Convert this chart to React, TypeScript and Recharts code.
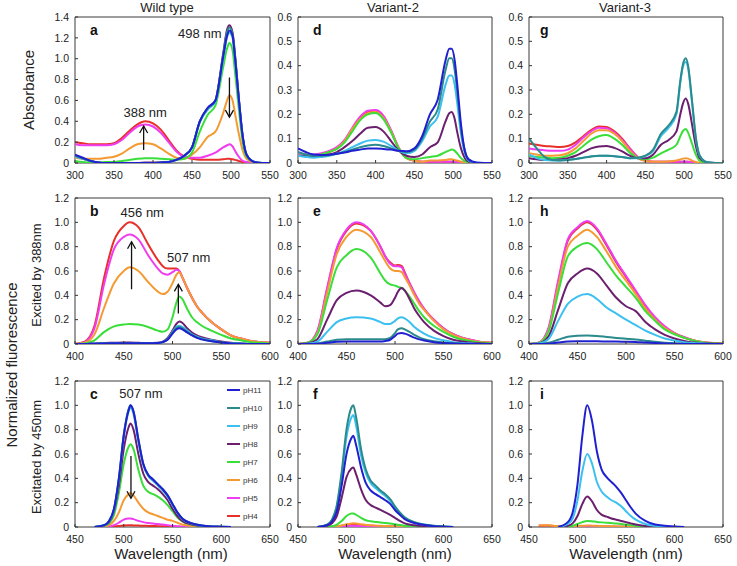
import React from 'react';
import { LineChart, Line, XAxis, YAxis, ReferenceArea, ReferenceLine, ReferenceDot } from 'recharts';

const FONT = '"Liberation Sans", Arial, Helvetica, sans-serif';

const SERIES_KEYS = ['pH11', 'pH10', 'pH9', 'pH8', 'pH7', 'pH6', 'pH5', 'pH4'];
const SERIES_COLORS = ['#2020d0', '#2b8a8c', '#3cc0f0', '#6b1f6e', '#3ade3a', '#f59a32', '#f03cf0', '#e8302a'];

const COLUMN_TITLES = ['Wild type', 'Variant-2', 'Variant-3'];
const PANEL_LETTERS = ['a', 'b', 'c', 'd', 'e', 'f', 'g', 'h', 'i'];

// ---------- Absorbance wavelengths (a, d, g) ----------
const absX = [300, 310, 320, 330, 340, 350, 360, 370, 380, 390, 400, 410, 420, 430, 440, 450, 460, 470, 480, 490, 495, 498, 502, 505, 510, 515, 520, 530, 540, 550];
const absTicksX = [300, 350, 400, 450, 500, 550];
const absTicksYwt = [0, 0.2, 0.4, 0.6, 0.8, 1.0, 1.2, 1.4];
const absTicksYv = [0, 0.1, 0.2, 0.3, 0.4, 0.5, 0.6];

// Panel a
const a_pH11 = [0.08, 0.05, 0.02, 0.005, 0, 0, 0, 0, 0, 0, 0, 0.005, 0.01, 0.03, 0.07, 0.15, 0.40, 0.53, 0.60, 1.02, 1.22, 1.27, 1.22, 1.02, 0.62, 0.26, 0.08, 0.01, 0, 0];
const a_pH10 = [0.07, 0.045, 0.02, 0.005, 0, 0, 0, 0, 0, 0, 0, 0.005, 0.01, 0.03, 0.07, 0.15, 0.40, 0.52, 0.60, 1.04, 1.26, 1.30, 1.24, 1.04, 0.62, 0.25, 0.08, 0.01, 0, 0];
const a_pH9 = [0.06, 0.04, 0.02, 0.005, 0, 0, 0, 0, 0, 0, 0, 0.005, 0.01, 0.03, 0.07, 0.15, 0.39, 0.51, 0.59, 1.00, 1.21, 1.25, 1.20, 1.00, 0.60, 0.25, 0.08, 0.01, 0, 0];
const a_pH8 = [0.07, 0.04, 0.02, 0.005, 0, 0, 0, 0, 0, 0.005, 0.005, 0.005, 0.01, 0.03, 0.07, 0.15, 0.40, 0.52, 0.60, 1.05, 1.28, 1.32, 1.25, 1.05, 0.62, 0.25, 0.08, 0.01, 0, 0];
const a_pH7 = [0.02, 0.01, 0.005, 0.005, 0.01, 0.01, 0.02, 0.03, 0.04, 0.045, 0.045, 0.04, 0.035, 0.03, 0.04, 0.10, 0.30, 0.46, 0.55, 0.92, 1.10, 1.15, 1.08, 0.88, 0.52, 0.20, 0.06, 0.01, 0, 0];
const a_pH6 = [0.05, 0.04, 0.04, 0.04, 0.05, 0.06, 0.09, 0.14, 0.18, 0.19, 0.18, 0.14, 0.09, 0.05, 0.04, 0.08, 0.15, 0.25, 0.30, 0.48, 0.60, 0.65, 0.60, 0.48, 0.28, 0.12, 0.04, 0.005, 0, 0];
const a_pH5 = [0.18, 0.17, 0.17, 0.17, 0.17, 0.18, 0.22, 0.29, 0.35, 0.37, 0.35, 0.29, 0.20, 0.11, 0.06, 0.05, 0.05, 0.07, 0.10, 0.15, 0.17, 0.18, 0.16, 0.12, 0.06, 0.02, 0.01, 0, 0, 0];
const a_pH4 = [0.20, 0.19, 0.18, 0.18, 0.18, 0.19, 0.24, 0.31, 0.37, 0.40, 0.38, 0.32, 0.22, 0.12, 0.06, 0.04, 0.03, 0.03, 0.03, 0.035, 0.04, 0.04, 0.035, 0.03, 0.02, 0.01, 0.005, 0, 0, 0];

// Panel d
const d_pH11 = [0.06, 0.045, 0.035, 0.033, 0.034, 0.038, 0.043, 0.05, 0.055, 0.06, 0.06, 0.058, 0.055, 0.05, 0.048, 0.06, 0.11, 0.20, 0.26, 0.42, 0.47, 0.47, 0.42, 0.33, 0.16, 0.05, 0.015, 0.002, 0, 0];
const d_pH10 = [0.045, 0.035, 0.03, 0.03, 0.032, 0.038, 0.045, 0.055, 0.065, 0.072, 0.075, 0.07, 0.06, 0.05, 0.045, 0.055, 0.10, 0.17, 0.22, 0.38, 0.43, 0.43, 0.38, 0.30, 0.14, 0.05, 0.012, 0, 0, 0];
const d_pH9 = [0.03, 0.025, 0.022, 0.025, 0.03, 0.038, 0.05, 0.065, 0.08, 0.092, 0.095, 0.088, 0.07, 0.05, 0.04, 0.05, 0.09, 0.15, 0.19, 0.32, 0.36, 0.36, 0.32, 0.25, 0.12, 0.04, 0.01, 0, 0, 0];
const d_pH8 = [0.03, 0.028, 0.028, 0.03, 0.035, 0.045, 0.065, 0.09, 0.12, 0.145, 0.148, 0.13, 0.09, 0.05, 0.03, 0.025, 0.035, 0.065, 0.085, 0.17, 0.205, 0.21, 0.18, 0.13, 0.06, 0.02, 0.005, 0, 0, 0];
const d_pH7 = [0.03, 0.03, 0.03, 0.035, 0.045, 0.058, 0.085, 0.13, 0.175, 0.20, 0.205, 0.18, 0.125, 0.058, 0.02, 0.015, 0.02, 0.025, 0.03, 0.045, 0.052, 0.055, 0.05, 0.04, 0.02, 0.008, 0.003, 0, 0, 0];
const d_pH6 = [0.03, 0.03, 0.03, 0.035, 0.045, 0.06, 0.09, 0.14, 0.18, 0.205, 0.21, 0.185, 0.13, 0.06, 0.02, 0.01, 0.005, 0.01, 0.01, 0.012, 0.015, 0.015, 0.012, 0.01, 0.005, 0, 0, 0, 0, 0];
const d_pH5 = [0.035, 0.035, 0.035, 0.04, 0.05, 0.065, 0.095, 0.145, 0.19, 0.215, 0.218, 0.195, 0.135, 0.062, 0.022, 0.01, 0.005, 0.005, 0.005, 0.005, 0.005, 0.005, 0.005, 0.005, 0, 0, 0, 0, 0, 0];
const d_pH4 = [0.03, 0.03, 0.03, 0.035, 0.045, 0.06, 0.09, 0.14, 0.185, 0.21, 0.215, 0.19, 0.13, 0.06, 0.02, 0.01, 0.005, 0.005, 0.005, 0.005, 0.005, 0.005, 0.005, 0.005, 0.005, 0, 0, 0, 0, 0];

// Panel g
const g_pH10 = [0.10, 0.06, 0.025, 0.012, 0.01, 0.012, 0.016, 0.022, 0.027, 0.03, 0.03, 0.028, 0.025, 0.02, 0.022, 0.03, 0.055, 0.12, 0.155, 0.21, 0.34, 0.40, 0.43, 0.40, 0.26, 0.105, 0.03, 0.003, 0, 0];
const g_pH9 = [0.035, 0.02, 0.012, 0.01, 0.01, 0.012, 0.016, 0.022, 0.027, 0.03, 0.03, 0.028, 0.025, 0.02, 0.02, 0.028, 0.05, 0.11, 0.145, 0.20, 0.33, 0.39, 0.415, 0.39, 0.25, 0.10, 0.03, 0.003, 0, 0];
const g_pH8 = [0.02, 0.015, 0.012, 0.012, 0.015, 0.02, 0.03, 0.045, 0.06, 0.068, 0.07, 0.062, 0.048, 0.03, 0.02, 0.02, 0.035, 0.075, 0.095, 0.13, 0.20, 0.24, 0.265, 0.245, 0.16, 0.07, 0.02, 0.002, 0, 0];
const g_pH7 = [0.03, 0.025, 0.022, 0.02, 0.022, 0.03, 0.045, 0.07, 0.095, 0.11, 0.115, 0.10, 0.075, 0.042, 0.02, 0.015, 0.022, 0.04, 0.055, 0.075, 0.11, 0.13, 0.14, 0.125, 0.08, 0.035, 0.01, 0, 0, 0];
const g_pH6 = [0.04, 0.035, 0.03, 0.03, 0.032, 0.04, 0.06, 0.09, 0.12, 0.135, 0.135, 0.12, 0.09, 0.05, 0.02, 0.008, 0.005, 0.005, 0.006, 0.01, 0.015, 0.018, 0.02, 0.018, 0.01, 0.004, 0.001, 0, 0, 0];
const g_pH5 = [0.06, 0.055, 0.052, 0.05, 0.05, 0.055, 0.075, 0.105, 0.13, 0.145, 0.143, 0.125, 0.095, 0.058, 0.022, 0.01, 0.005, 0.005, 0.005, 0.005, 0.005, 0.005, 0.005, 0.005, 0.003, 0, 0, 0, 0, 0];
const g_pH4 = [0.08, 0.075, 0.07, 0.068, 0.066, 0.07, 0.085, 0.11, 0.135, 0.15, 0.148, 0.13, 0.10, 0.06, 0.025, 0.01, 0.005, 0.005, 0.005, 0.005, 0.005, 0.005, 0.005, 0.005, 0.003, 0, 0, 0, 0, 0];

// ---------- Excitation 388 nm (b, e, h) ----------
const exTicksX = [400, 450, 500, 550, 600];
const fluTicksY = [0, 0.2, 0.4, 0.6, 0.8, 1.0, 1.2];

const bX = [400, 410, 420, 430, 440, 450, 456, 465, 475, 485, 490, 495, 500, 504, 507, 510, 515, 520, 525, 530, 540, 550, 560, 570, 580, 590, 600];
const b_pH11 = [0, 0, 0.003, 0.005, 0.006, 0.006, 0.006, 0.006, 0.006, 0.008, 0.015, 0.035, 0.085, 0.12, 0.13, 0.12, 0.095, 0.07, 0.05, 0.038, 0.022, 0.012, 0.005, 0.002, 0, 0, 0];
const b_pH10 = [0, 0, 0.003, 0.005, 0.006, 0.006, 0.006, 0.006, 0.006, 0.008, 0.015, 0.04, 0.095, 0.13, 0.14, 0.13, 0.10, 0.075, 0.055, 0.04, 0.025, 0.013, 0.006, 0.003, 0, 0, 0];
const b_pH9 = [0, 0, 0.003, 0.005, 0.006, 0.006, 0.006, 0.006, 0.006, 0.008, 0.015, 0.04, 0.10, 0.14, 0.15, 0.14, 0.11, 0.08, 0.06, 0.045, 0.03, 0.015, 0.008, 0.004, 0, 0, 0];
const b_pH8 = [0, 0, 0.005, 0.008, 0.01, 0.012, 0.012, 0.01, 0.008, 0.01, 0.02, 0.05, 0.11, 0.165, 0.185, 0.175, 0.13, 0.095, 0.07, 0.055, 0.035, 0.02, 0.01, 0.005, 0, 0, 0];
const b_pH7 = [0, 0.005, 0.03, 0.10, 0.145, 0.16, 0.165, 0.16, 0.14, 0.11, 0.10, 0.12, 0.22, 0.34, 0.39, 0.37, 0.29, 0.22, 0.18, 0.15, 0.11, 0.075, 0.045, 0.03, 0.015, 0.01, 0.005];
const b_pH6 = [0, 0.01, 0.08, 0.30, 0.50, 0.60, 0.63, 0.60, 0.51, 0.43, 0.41, 0.43, 0.50, 0.57, 0.59, 0.55, 0.46, 0.38, 0.31, 0.26, 0.18, 0.12, 0.07, 0.045, 0.025, 0.015, 0.01];
const b_pH5 = [0, 0.015, 0.13, 0.50, 0.78, 0.88, 0.90, 0.86, 0.73, 0.62, 0.58, 0.57, 0.59, 0.61, 0.60, 0.55, 0.46, 0.38, 0.31, 0.26, 0.18, 0.12, 0.07, 0.045, 0.025, 0.015, 0.01];
const b_pH4 = [0, 0.02, 0.15, 0.55, 0.85, 0.97, 1.0, 0.96, 0.82, 0.69, 0.64, 0.62, 0.62, 0.62, 0.60, 0.55, 0.46, 0.38, 0.31, 0.26, 0.18, 0.12, 0.07, 0.045, 0.025, 0.015, 0.01];

const eX = [400, 410, 420, 430, 440, 450, 460, 475, 485, 490, 495, 500, 503, 507, 510, 515, 520, 525, 530, 540, 550, 560, 570, 580, 590, 600];
const e_pH11 = [0, 0, 0.002, 0.01, 0.018, 0.02, 0.02, 0.02, 0.02, 0.025, 0.035, 0.065, 0.085, 0.09, 0.085, 0.07, 0.052, 0.038, 0.028, 0.015, 0.008, 0.004, 0.002, 0, 0, 0];
const e_pH10 = [0, 0, 0.005, 0.02, 0.035, 0.04, 0.04, 0.04, 0.04, 0.04, 0.05, 0.09, 0.12, 0.13, 0.12, 0.10, 0.075, 0.055, 0.04, 0.022, 0.012, 0.006, 0.003, 0, 0, 0];
const e_pH9 = [0, 0.003, 0.02, 0.10, 0.18, 0.21, 0.22, 0.21, 0.18, 0.165, 0.165, 0.19, 0.21, 0.22, 0.21, 0.18, 0.14, 0.11, 0.085, 0.05, 0.03, 0.015, 0.008, 0.004, 0, 0];
const e_pH8 = [0, 0.005, 0.04, 0.20, 0.36, 0.42, 0.44, 0.40, 0.34, 0.31, 0.32, 0.38, 0.43, 0.46, 0.44, 0.37, 0.29, 0.23, 0.18, 0.11, 0.065, 0.035, 0.02, 0.01, 0.005, 0];
const e_pH7 = [0, 0.01, 0.08, 0.36, 0.63, 0.73, 0.78, 0.71, 0.58, 0.52, 0.49, 0.48, 0.47, 0.46, 0.44, 0.39, 0.33, 0.27, 0.22, 0.15, 0.10, 0.06, 0.035, 0.02, 0.01, 0.005];
const e_pH6 = [0, 0.01, 0.09, 0.42, 0.74, 0.88, 0.94, 0.88, 0.75, 0.68, 0.62, 0.60, 0.60, 0.59, 0.55, 0.48, 0.40, 0.33, 0.28, 0.19, 0.12, 0.075, 0.045, 0.025, 0.015, 0.01];
const e_pH5 = [0, 0.01, 0.11, 0.46, 0.79, 0.94, 1.0, 0.93, 0.80, 0.72, 0.66, 0.64, 0.64, 0.63, 0.58, 0.50, 0.42, 0.35, 0.29, 0.20, 0.13, 0.08, 0.05, 0.03, 0.015, 0.01];
const e_pH4 = [0, 0.01, 0.10, 0.45, 0.78, 0.93, 0.99, 0.93, 0.80, 0.72, 0.67, 0.645, 0.65, 0.64, 0.59, 0.50, 0.42, 0.35, 0.29, 0.20, 0.13, 0.08, 0.05, 0.03, 0.015, 0.01];

const hX = [400, 410, 420, 430, 440, 450, 460, 470, 480, 490, 500, 510, 520, 530, 540, 550, 560, 570, 580, 590, 600];
const h_pH11 = [0, 0, 0.003, 0.012, 0.02, 0.022, 0.022, 0.022, 0.021, 0.02, 0.019, 0.017, 0.012, 0.008, 0.005, 0.003, 0.001, 0, 0, 0, 0];
const h_pH10 = [0, 0, 0.01, 0.035, 0.06, 0.068, 0.07, 0.066, 0.058, 0.05, 0.043, 0.036, 0.027, 0.018, 0.011, 0.006, 0.003, 0.001, 0, 0, 0];
const h_pH9 = [0, 0.004, 0.04, 0.19, 0.33, 0.39, 0.41, 0.37, 0.30, 0.25, 0.20, 0.155, 0.11, 0.075, 0.045, 0.028, 0.015, 0.008, 0.004, 0, 0];
const h_pH8 = [0, 0.005, 0.06, 0.28, 0.50, 0.58, 0.62, 0.58, 0.48, 0.38, 0.31, 0.27, 0.18, 0.12, 0.075, 0.045, 0.025, 0.012, 0.006, 0.003, 0];
const h_pH7 = [0, 0.008, 0.10, 0.42, 0.72, 0.80, 0.83, 0.78, 0.67, 0.56, 0.47, 0.38, 0.27, 0.19, 0.12, 0.08, 0.05, 0.027, 0.013, 0.006, 0.003];
const h_pH6 = [0, 0.01, 0.11, 0.47, 0.80, 0.89, 0.94, 0.88, 0.76, 0.63, 0.52, 0.41, 0.29, 0.20, 0.13, 0.085, 0.05, 0.028, 0.014, 0.007, 0.004];
const h_pH5 = [0, 0.01, 0.13, 0.52, 0.86, 0.96, 1.01, 0.95, 0.82, 0.68, 0.56, 0.44, 0.32, 0.22, 0.145, 0.09, 0.055, 0.03, 0.015, 0.008, 0.005];
const h_pH4 = [0, 0.01, 0.12, 0.50, 0.85, 0.95, 1.0, 0.94, 0.81, 0.67, 0.55, 0.43, 0.31, 0.21, 0.14, 0.09, 0.055, 0.03, 0.015, 0.008, 0.005];

// ---------- Excitation 450 nm (c, f, i) ----------
const emTicksX = [450, 500, 550, 600, 650];

const cfX = [450, 460, 470, 480, 485, 490, 495, 500, 505, 507, 510, 515, 520, 525, 530, 535, 540, 545, 550, 555, 560, 570, 580, 590, 600, 610, 620, 650];
const c_pH11 = [null, null, 0, 0.015, 0.05, 0.15, 0.40, 0.75, 0.96, 1.0, 0.95, 0.72, 0.52, 0.43, 0.39, 0.35, 0.31, 0.26, 0.19, 0.12, 0.07, 0.03, 0.012, 0.005, 0.003, 0, null, null];
const c_pH10 = [null, null, 0, 0.015, 0.05, 0.15, 0.40, 0.76, 0.97, 1.0, 0.95, 0.72, 0.52, 0.43, 0.39, 0.35, 0.31, 0.26, 0.19, 0.12, 0.07, 0.03, 0.012, 0.005, 0.003, 0, null, null];
const c_pH9 = [null, null, 0, 0.014, 0.048, 0.14, 0.39, 0.74, 0.95, 0.98, 0.93, 0.70, 0.51, 0.42, 0.38, 0.34, 0.30, 0.25, 0.18, 0.115, 0.065, 0.028, 0.011, 0.005, 0.002, 0, null, null];
const c_pH8 = [null, null, 0, 0.012, 0.04, 0.13, 0.34, 0.64, 0.82, 0.85, 0.80, 0.60, 0.44, 0.37, 0.34, 0.31, 0.27, 0.22, 0.15, 0.09, 0.05, 0.02, 0.008, 0.003, 0, null, null, null];
const c_pH7 = [null, null, 0, 0.01, 0.03, 0.10, 0.28, 0.52, 0.66, 0.68, 0.64, 0.47, 0.34, 0.29, 0.27, 0.25, 0.22, 0.18, 0.13, 0.08, 0.045, 0.018, 0.007, 0.002, 0, null, null, null];
const c_pH6 = [null, null, 0, 0.005, 0.015, 0.05, 0.12, 0.22, 0.27, 0.28, 0.26, 0.20, 0.15, 0.12, 0.105, 0.09, 0.075, 0.06, 0.05, 0.035, 0.02, 0.008, 0.002, 0, null, null, null, null];
const c_pH5 = [null, null, 0, 0.002, 0.005, 0.015, 0.035, 0.06, 0.07, 0.07, 0.065, 0.05, 0.04, 0.033, 0.028, 0.024, 0.02, 0.015, 0.01, 0.006, 0.003, 0, null, null, null, null, null, null];
const c_pH4 = [null, null, 0, 0, 0.002, 0.005, 0.008, 0.012, 0.014, 0.014, 0.013, 0.012, 0.01, 0.009, 0.008, 0.007, 0.006, 0.005, 0.004, 0.003, 0.002, 0, null, null, null, null, null, null];

const f_pH11 = [null, null, 0, 0.015, 0.045, 0.13, 0.34, 0.60, 0.73, 0.75, 0.67, 0.49, 0.36, 0.30, 0.27, 0.245, 0.22, 0.19, 0.14, 0.10, 0.065, 0.033, 0.016, 0.007, 0.003, 0, null, null];
const f_pH10 = [null, null, 0, 0.02, 0.06, 0.18, 0.45, 0.80, 0.98, 1.0, 0.90, 0.64, 0.47, 0.38, 0.34, 0.30, 0.27, 0.23, 0.17, 0.12, 0.08, 0.04, 0.02, 0.01, 0.005, 0, null, null];
const f_pH9 = [null, null, 0, 0.018, 0.055, 0.165, 0.42, 0.74, 0.90, 0.92, 0.83, 0.59, 0.44, 0.36, 0.32, 0.285, 0.255, 0.215, 0.16, 0.11, 0.075, 0.037, 0.018, 0.008, 0.004, 0, null, null];
const f_pH8 = [null, null, 0, 0.01, 0.03, 0.09, 0.24, 0.41, 0.48, 0.49, 0.43, 0.31, 0.22, 0.18, 0.16, 0.14, 0.12, 0.10, 0.075, 0.05, 0.03, 0.015, 0.007, 0.003, 0, null, null, null];
const f_pH7 = [null, null, 0, 0.002, 0.006, 0.02, 0.05, 0.09, 0.11, 0.11, 0.10, 0.075, 0.055, 0.047, 0.042, 0.037, 0.033, 0.028, 0.022, 0.016, 0.01, 0.005, 0.002, 0, null, null, null, null];
const f_pH6 = [null, null, 0, 0, 0.002, 0.005, 0.012, 0.022, 0.028, 0.03, 0.028, 0.022, 0.017, 0.014, 0.012, 0.01, 0.008, 0.006, 0.005, 0.003, 0.002, 0, null, null, null, null, null, null];
const f_pH5 = [null, null, 0, 0, 0.001, 0.003, 0.006, 0.009, 0.01, 0.01, 0.009, 0.008, 0.006, 0.005, 0.004, 0.003, 0.003, 0.002, 0.002, 0.001, 0, 0, null, null, null, null, null, null];
const f_pH4 = [null, null, 0, 0, 0.002, 0.004, 0.01, 0.016, 0.02, 0.02, 0.018, 0.015, 0.012, 0.01, 0.008, 0.007, 0.006, 0.005, 0.004, 0.003, 0.002, 0, null, null, null, null, null, null];

const iX = [450, 460, 470, 480, 490, 495, 500, 505, 510, 515, 520, 525, 530, 535, 540, 545, 550, 555, 560, 570, 580, 590, 600, 610, 620, 650];
const i_pH11 = [null, null, null, 0, 0.04, 0.12, 0.35, 0.75, 1.0, 0.87, 0.62, 0.47, 0.41, 0.37, 0.33, 0.28, 0.22, 0.16, 0.11, 0.05, 0.02, 0.01, 0.005, 0, null, null];
const i_pH9 = [null, null, null, 0, 0.025, 0.07, 0.22, 0.46, 0.60, 0.52, 0.37, 0.29, 0.25, 0.22, 0.20, 0.17, 0.13, 0.09, 0.06, 0.025, 0.01, 0.003, 0, null, null, null];
const i_pH8 = [null, null, null, 0, 0.01, 0.03, 0.09, 0.19, 0.25, 0.21, 0.14, 0.10, 0.085, 0.07, 0.06, 0.05, 0.04, 0.03, 0.02, 0.008, 0.003, 0, null, null, null, null];
const i_pH7 = [null, null, null, 0, 0.005, 0.01, 0.025, 0.04, 0.05, 0.048, 0.042, 0.038, 0.035, 0.032, 0.028, 0.024, 0.02, 0.015, 0.01, 0.004, 0, null, null, null, null, null];
const i_pH6 = [null, 0.015, 0.015, 0.005, 0.003, 0.005, 0.008, 0.01, 0.012, 0.011, 0.01, 0.008, 0.007, 0.006, 0.005, 0.004, 0.003, 0.002, 0.001, 0, null, null, null, null, null, null];
const i_pH5 = [null, null, null, 0, 0.002, 0.003, 0.004, 0.005, 0.005, 0.005, 0.004, 0.004, 0.003, 0.003, 0.002, 0.002, 0.001, 0, 0, 0, null, null, null, null, null, null];
const i_pH4 = [null, 0.01, 0.012, 0.004, 0.002, 0.003, 0.004, 0.005, 0.006, 0.005, 0.005, 0.004, 0.004, 0.003, 0.003, 0.002, 0.002, 0.001, 0, 0, null, null, null, null, null, null];

type Vals = (number | null)[] | undefined;
type Annot = { x: number; y: number; label: string };
type Arrow = { x: number; from: number; to: number };

function buildRows(xs: number[], series: Vals[]) {
  return xs.map((x, i) => {
    const row: Record<string, number | null> = { x };
    SERIES_KEYS.forEach((k, s) => {
      const arr = series[s];
      if (arr) row[k] = arr[i];
    });
    return row;
  });
}

const ML = 40;
const MT = 10;
const MR = 12;
const XH = 25;

const fmtY = (v: number) => (v === 0 ? '0' : v.toFixed(1));

function Panel(props: {
  left: number; top: number; w: number; h: number;
  xs: number[]; series: Vals[]; xDomain: [number, number]; xTicks: number[];
  yMax: number; yTicks: number[]; texts?: Annot[]; arrows?: Arrow[];
}) {
  const { left, top, w, h, xs, series, xDomain, xTicks, yMax, yTicks, texts = [], arrows = [] } = props;
  const rows = buildRows(xs, series);
  const order = SERIES_KEYS.map((k, i) => i).reverse();
  return (
    <div style={{ position: 'absolute', left: left - ML, top: top - MT }}>
      <LineChart width={w + ML + MR} height={h + MT + XH} data={rows} margin={{ top: MT, right: MR, bottom: 0, left: 0 }}>
        <XAxis
          type="number" dataKey="x" domain={xDomain} ticks={xTicks} interval={0} height={XH}
          axisLine={false} tickSize={-3} tickMargin={12} allowDataOverflow
          tick={{ fontSize: 10.5, fill: '#222', fontFamily: FONT }} tickLine={{ stroke: '#333' }}
        />
        <YAxis
          type="number" domain={[0, yMax]} ticks={yTicks} interval={0} width={ML}
          axisLine={false} tickSize={-3} tickMargin={9} allowDataOverflow tickFormatter={fmtY}
          tick={{ fontSize: 10.5, fill: '#222', fontFamily: FONT }} tickLine={{ stroke: '#333' }}
        />
        {order.map((i) =>
          series[i] ? (
            <Line
              key={SERIES_KEYS[i]} dataKey={SERIES_KEYS[i]} stroke={SERIES_COLORS[i]} strokeWidth={2}
              dot={false} type="monotone" isAnimationActive={false} connectNulls={false}
            />
          ) : null
        )}
        <ReferenceArea x1={xDomain[0]} x2={xDomain[1]} y1={0} y2={yMax} fill="none" stroke="#3a3a3a" strokeWidth={1} ifOverflow="visible" />
        {arrows.map((a, k) => (
          <ReferenceLine key={'al' + k} segment={[{ x: a.x, y: a.from }, { x: a.x, y: a.to }]} stroke="#111" strokeWidth={1.3} ifOverflow="visible" />
        ))}
        {arrows.map((a, k) => (
          <ReferenceDot
            key={'ah' + k} x={a.x} y={a.to} r={0} ifOverflow="visible"
            shape={(p: any) => {
              const dir = a.to > a.from ? 1 : -1;
              const cx = p.cx, cy = p.cy;
              return <path d={`M${cx - 4},${cy + dir * 7}L${cx},${cy}L${cx + 4},${cy + dir * 7}`} fill="none" stroke="#111" strokeWidth={1.3} />;
            }}
          />
        ))}
        {texts.map((t, k) => (
          <ReferenceDot
            key={'t' + k} x={t.x} y={t.y} r={0} ifOverflow="visible"
            shape={(p: any) => (
              <text x={p.cx} y={p.cy} textAnchor="middle" fontSize={13} fontFamily={FONT} fill="#222">{t.label}</text>
            )}
          />
        ))}
      </LineChart>
    </div>
  );
}

const COL_LEFT = [75, 298, 529];
const COL_W = [195, 194, 194];
const ROW_TOP = [17, 198, 381];
const ROW_H = [146, 146, 146];

const LEGEND_X = 227;
const LEGEND_Y = 390;
const LEGEND_STEP = 18;

export default function App() {
  return (
    <div style={{ position: 'absolute', left: 0, top: 0, width: 737, height: 566, background: '#fff', fontFamily: FONT }}>
      {/* Row 1: absorbance */}
      <Panel left={COL_LEFT[0]} top={ROW_TOP[0]} w={COL_W[0]} h={ROW_H[0]} xs={absX}
        series={[a_pH11, a_pH10, a_pH9, a_pH8, a_pH7, a_pH6, a_pH5, a_pH4]}
        xDomain={[300, 550]} xTicks={absTicksX} yMax={1.4} yTicks={absTicksYwt}
        texts={[{ x: 460, y: 1.2, label: '498 nm' }, { x: 390, y: 0.44, label: '388 nm' }]}
        arrows={[{ x: 388, from: 0.125, to: 0.355 }, { x: 498, from: 0.82, to: 0.44 }]} />
      <Panel left={COL_LEFT[1]} top={ROW_TOP[0]} w={COL_W[1]} h={ROW_H[0]} xs={absX}
        series={[d_pH11, d_pH10, d_pH9, d_pH8, d_pH7, d_pH6, d_pH5, d_pH4]}
        xDomain={[300, 550]} xTicks={absTicksX} yMax={0.6} yTicks={absTicksYv} />
      <Panel left={COL_LEFT[2]} top={ROW_TOP[0]} w={COL_W[2]} h={ROW_H[0]} xs={absX}
        series={[undefined, g_pH10, g_pH9, g_pH8, g_pH7, g_pH6, g_pH5, g_pH4]}
        xDomain={[300, 550]} xTicks={absTicksX} yMax={0.6} yTicks={absTicksYv} />

      {/* Row 2: excited by 388 nm */}
      <Panel left={COL_LEFT[0]} top={ROW_TOP[1]} w={COL_W[0]} h={ROW_H[1]} xs={bX}
        series={[b_pH11, b_pH10, b_pH9, b_pH8, b_pH7, b_pH6, b_pH5, b_pH4]}
        xDomain={[400, 600]} xTicks={exTicksX} yMax={1.2} yTicks={fluTicksY}
        texts={[{ x: 469, y: 1.046, label: '456 nm' }, { x: 516.6, y: 0.676, label: '507 nm' }]}
        arrows={[{ x: 458, from: 0.45, to: 0.84 }, { x: 506, from: 0.25, to: 0.49 }]} />
      <Panel left={COL_LEFT[1]} top={ROW_TOP[1]} w={COL_W[1]} h={ROW_H[1]} xs={eX}
        series={[e_pH11, e_pH10, e_pH9, e_pH8, e_pH7, e_pH6, e_pH5, e_pH4]}
        xDomain={[400, 600]} xTicks={exTicksX} yMax={1.2} yTicks={fluTicksY} />
      <Panel left={COL_LEFT[2]} top={ROW_TOP[1]} w={COL_W[2]} h={ROW_H[1]} xs={hX}
        series={[h_pH11, h_pH10, h_pH9, h_pH8, h_pH7, h_pH6, h_pH5, h_pH4]}
        xDomain={[400, 600]} xTicks={exTicksX} yMax={1.2} yTicks={fluTicksY} />

      {/* Row 3: excited by 450 nm */}
      <Panel left={COL_LEFT[0]} top={ROW_TOP[2]} w={COL_W[0]} h={ROW_H[2]} xs={cfX}
        series={[c_pH11, c_pH10, c_pH9, c_pH8, c_pH7, c_pH6, c_pH5, c_pH4]}
        xDomain={[450, 650]} xTicks={emTicksX} yMax={1.2} yTicks={fluTicksY}
        texts={[{ x: 517.7, y: 1.057, label: '507 nm' }]}
        arrows={[{ x: 507.4, from: 0.583, to: 0.236 }]} />
      <Panel left={COL_LEFT[1]} top={ROW_TOP[2]} w={COL_W[1]} h={ROW_H[2]} xs={cfX}
        series={[f_pH11, f_pH10, f_pH9, f_pH8, f_pH7, f_pH6, f_pH5, f_pH4]}
        xDomain={[450, 650]} xTicks={emTicksX} yMax={1.2} yTicks={fluTicksY} />
      <Panel left={COL_LEFT[2]} top={ROW_TOP[2]} w={COL_W[2]} h={ROW_H[2]} xs={iX}
        series={[i_pH11, undefined, i_pH9, i_pH8, i_pH7, i_pH6, i_pH5, i_pH4]}
        xDomain={[450, 650]} xTicks={emTicksX} yMax={1.2} yTicks={fluTicksY} />

      <svg width={737} height={566} style={{ position: 'absolute', left: 0, top: 0, pointerEvents: 'none' }}>
        {COLUMN_TITLES.map((t, i) => (
          <text key={t} x={[167, 393, 625][i]} y={7} textAnchor="middle" dominantBaseline="central" fontSize={13} fontFamily={FONT} fill="#222">{t}</text>
        ))}
        {[0, 1, 2].map((i) => (
          <text key={'wl' + i} x={[171, 395, 626][i]} y={553} textAnchor="middle" dominantBaseline="central" fontSize={15} fontFamily={FONT} fill="#222">Wavelength (nm)</text>
        ))}
        <text transform="translate(28,90) rotate(-90)" textAnchor="middle" dominantBaseline="central" fontSize={15} fontFamily={FONT} fill="#222">Absorbance</text>
        <text transform="translate(11,365) rotate(-90)" textAnchor="middle" dominantBaseline="central" fontSize={15} fontFamily={FONT} fill="#222">Normalized fluorescence</text>
        <text transform="translate(36,275) rotate(-90)" textAnchor="middle" dominantBaseline="central" fontSize={13} fontFamily={FONT} fill="#222">Excited by 388nm</text>
        <text transform="translate(36,457) rotate(-90)" textAnchor="middle" dominantBaseline="central" fontSize={13} fontFamily={FONT} fill="#222">Excitated by 450nm</text>
        {PANEL_LETTERS.map((l, k) => {
          const col = Math.floor(k / 3);
          const row = k % 3;
          const x = COL_LEFT[col] + (col === 2 ? 11 : 15);
          const y = ROW_TOP[row] + 18;
          return (
            <text key={l} x={x} y={y} fontSize={14} fontWeight="bold" fontFamily={FONT} fill="#111">{l}</text>
          );
        })}
        {SERIES_KEYS.map((k, i) => (
          <g key={'lg' + k}>
            <line x1={LEGEND_X} x2={LEGEND_X + 13} y1={LEGEND_Y + i * LEGEND_STEP} y2={LEGEND_Y + i * LEGEND_STEP} stroke={SERIES_COLORS[i]} strokeWidth={2} />
            <text x={LEGEND_X + 16} y={LEGEND_Y + i * LEGEND_STEP} dominantBaseline="central" fontSize={8} fontFamily={FONT} fill="#333">{k}</text>
          </g>
        ))}
      </svg>
    </div>
  );
}
